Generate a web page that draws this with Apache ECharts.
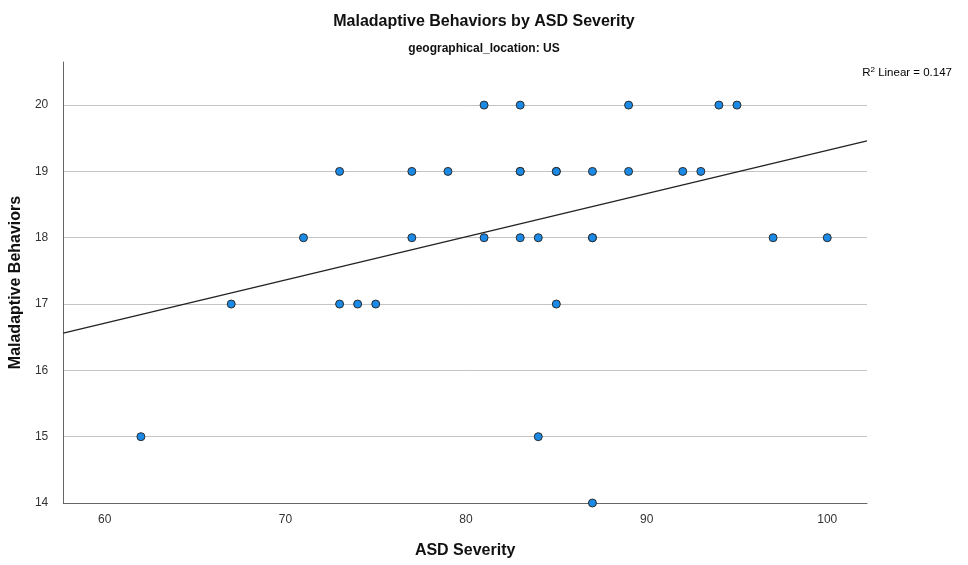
<!DOCTYPE html>
<html>
<head>
<meta charset="utf-8">
<script src="https://cdn.jsdelivr.net/npm/echarts@6/dist/echarts.min.js"></script>
<style>
  html, body { margin: 0; padding: 0; background: #fff; }
  #chart { width: 968px; height: 565px; }
</style>
</head>
<body>
<div id="chart"></div>
<script>
// ASD severity vs maladaptive behaviours
const severity = [81, 83, 89, 94, 95,
  73, 77, 79, 83, 83, 85, 85, 87, 89, 92, 93,
  71, 77, 81, 83, 84, 87, 87, 97, 100,
  67, 73, 74, 75, 85,
  62, 84,
  87];
const behaviors = [20, 20, 20, 20, 20,
  19, 19, 19, 19, 19, 19, 19, 19, 19, 19, 19,
  18, 18, 18, 18, 18, 18, 18, 18, 18,
  17, 17, 17, 17, 17,
  15, 15,
  14];

// fit line end points
const fitX = [57.7, 102.2];
const fitY = [16.56, 19.46];

const xTicks = [60, 70, 80, 90, 100];
const yTicks = [14, 15, 16, 17, 18, 19, 20];

const font = 'Liberation Sans, Arial, sans-serif';
const chart = echarts.init(document.getElementById('chart'));

const points = severity.map((v, i) => [v, behaviors[i]]);
const fitLine = fitX.map((v, i) => [v, fitY[i]]);

chart.setOption({
  animation: false,
  title: [
    {
      text: 'Maladaptive Behaviors by ASD Severity',
      left: 'center',
      top: 9,
      textStyle: { fontFamily: font, fontSize: 16, fontWeight: 'bold', color: '#111' }
    },
    {
      text: 'geographical_location: US',
      left: 'center',
      top: 38,
      textStyle: { fontFamily: font, fontSize: 12, fontWeight: 'bold', color: '#111' }
    }
  ],
  grid: { left: 61, right: 101, top: 62, bottom: 62 },
  xAxis: {
    type: 'value',
    min: 57.7,
    max: 102.2,
    name: 'ASD Severity',
    nameLocation: 'middle',
    nameGap: 40,
    nameTextStyle: { fontFamily: font, fontSize: 16, fontWeight: 'bold', color: '#111' },
    axisLine: { lineStyle: { color: '#666', width: 1 } },
    axisTick: { show: false, customValues: xTicks },
    axisLabel: { customValues: xTicks, fontFamily: font, fontSize: 12, color: '#333', margin: 11 },
    splitLine: { show: false }
  },
  yAxis: {
    type: 'value',
    min: 14,
    max: 20.65,
    name: 'Maladaptive Behaviors',
    nameLocation: 'middle',
    nameGap: 36,
    nameTextStyle: { fontFamily: font, fontSize: 16, fontWeight: 'bold', color: '#111' },
    axisLine: { show: true, lineStyle: { color: '#666', width: 1 } },
    axisTick: { show: false, customValues: yTicks },
    axisLabel: { customValues: yTicks, fontFamily: font, fontSize: 12, color: '#333', margin: 15 },
    splitLine: { show: true, lineStyle: { color: '#c4c4c4', width: 1 } }
  },
  series: [
    {
      type: 'line',
      data: fitLine,
      showSymbol: false,
      symbol: 'none',
      lineStyle: { color: '#222', width: 1.3 },
      z: 2
    },
    {
      type: 'scatter',
      data: points,
      symbol: 'circle',
      symbolSize: 8,
      itemStyle: { color: '#1a8ae6', borderColor: '#2b2b2b', borderWidth: 1, opacity: 1 },
      z: 3
    }
  ],
  graphic: [
    {
      type: 'text',
      right: 16,
      top: 66,
      style: {
        text: '{n|R}{s|2}{n| Linear = 0.147}',
        rich: {
          n: { fontFamily: font, fontSize: 11.5, color: '#111' },
          s: { fontFamily: font, fontSize: 8, color: '#111', verticalAlign: 'top', padding: [0, 0, 6, 0] }
        }
      }
    }
  ]
});
</script>
</body>
</html>
